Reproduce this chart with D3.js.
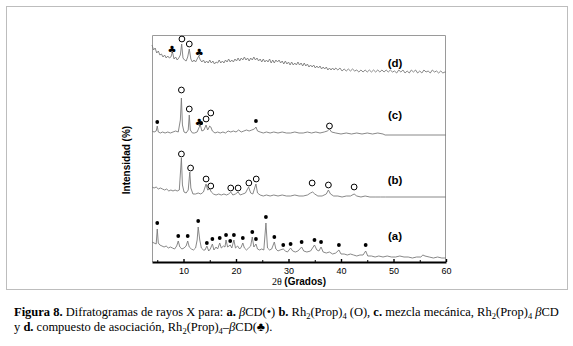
<!DOCTYPE html>
<html>
<head>
<meta charset="utf-8">
<script src="https://cdn.jsdelivr.net/npm/d3@7"></script>
<style>
  body { margin: 0; background: #fff; }
  svg { display: block; }
</style>
</head>
<body>
<svg width="573" height="346"></svg>
<script>
//diffractogram traces, [2theta, intensity above own baseline]
const trace_a = [
  [4.0,20],[4.4,19],[4.8,18],[5.0,33],[5.2,19],[5.5,17],[5.9,16],[6.3,15],[6.7,16],[7.1,14],
  [7.5,15],[7.9,14],[8.3,13],[8.7,16],[9.0,21],[9.3,15],[9.7,13],[10.1,14],[10.5,16],[10.8,21],
  [11.1,15],[11.5,13],[11.9,12],[12.3,14],[12.6,22],[12.8,35],[13.1,22],[13.4,14],[13.8,12],[14.1,12],
  [14.45,16],[14.8,11],[15.1,13],[15.5,18],[15.8,12],[16.2,15],[16.5,13],[16.9,19],[17.2,14],[17.6,16],
  [17.9,15],[18.1,22],[18.4,15],[18.9,17],[19.2,14],[19.6,22],[19.9,14],[20.3,16],[20.7,13],[21.0,15],
  [21.3,19],[21.6,14],[22.0,12],[22.4,14],[22.8,16],[23.1,25],[23.4,15],[23.8,18],[24.1,13],[24.5,12],
  [24.9,13],[25.3,12],[25.7,39],[26.0,14],[26.4,12],[26.8,13],[27.3,20],[27.6,13],[28.0,11],[28.4,12],
  [29.0,13],[29.4,11],[29.8,10],[30.4,14],[30.8,11],[31.3,10],[31.8,11],[32.5,15],[32.9,11],[33.5,10],
  [34.2,11],[34.95,17],[35.4,12],[35.8,11],[36.2,15],[36.6,10],[37.2,9],[37.8,10],[38.4,8],[39.0,9],
  [39.6,12],[40.0,8],[40.6,8],[41.2,7],[41.8,8],[42.4,7],[43.0,6],[43.6,7],[44.2,7],[44.7,11],
  [45.1,6],[45.8,6],[46.5,5],[47.2,6],[48.0,5],[48.8,6],[49.6,5],[50.4,5],[51.2,6],[52.0,5],
  [52.8,5],[53.6,4],[54.4,5],[55.2,5],[55.6,7],[56.0,6],[56.8,5],[57.6,4],[58.4,5],[59.2,4],[60.0,4]
];
const trace_b = [
  [4.0,15],[4.4,14],[4.8,15],[5.2,13],[5.6,14],[6.0,13],[6.4,12],[6.8,13],[7.2,11],[7.6,12],
  [8.0,11],[8.4,12],[8.8,11],[9.2,12],[9.45,32],[9.6,44],[9.8,17],[10.1,10],[10.5,9],[10.9,12],
  [11.2,30],[11.4,14],[11.8,8],[12.3,8],[12.8,9],[13.3,8],[13.8,10],[14.3,18],[14.6,12],[15.0,13],
  [15.3,10],[15.7,8],[16.2,7],[16.7,8],[17.2,7],[17.7,8],[18.2,7],[18.6,8],[19.0,10],[19.4,7],
  [19.9,8],[20.4,10],[20.8,7],[21.3,8],[21.8,9],[22.4,15],[22.8,9],[23.2,8],[23.8,18],[24.1,9],
  [24.6,7],[25.2,6],[25.8,7],[26.5,6],[27.2,7],[28.0,6],[28.8,7],[29.6,6],[30.4,6],[31.2,7],
  [32.0,6],[32.8,6],[33.6,7],[34.2,9],[34.6,10],[35.0,8],[35.6,6],[36.4,6],[37.2,8],[37.6,12],
  [38.0,8],[38.6,6],[39.4,6],[40.2,5],[41.0,6],[41.8,6],[42.5,8],[43.0,6],[43.8,5],[44.6,6],
  [45.5,5],[46.5,5],[47.5,5],[48.5,5],[60.0,5]
];
const trace_c = [
  [4.0,6],[4.4,5],[4.8,6],[5.0,11],[5.2,5],[5.6,4],[6.0,5],[6.5,4],[7.0,5],[7.5,4],
  [8.0,5],[8.5,6],[9.0,5],[9.4,17],[9.6,39],[9.8,12],[10.1,5],[10.5,4],[10.9,7],[11.1,22],
  [11.3,7],[11.7,4],[12.1,4],[12.6,5],[13.0,10],[13.2,12],[13.5,6],[13.9,7],[14.3,12],[14.6,7],
  [15.0,11],[15.2,10],[15.5,6],[16.0,4],[16.5,5],[17.0,4],[17.5,5],[18.0,4],[18.5,6],[19.0,5],
  [19.5,6],[20.0,5],[20.5,7],[21.0,5],[21.5,6],[22.0,7],[22.5,6],[23.0,7],[23.5,8],[23.8,10],
  [24.1,6],[24.6,5],[25.2,4],[25.8,5],[26.5,4],[27.2,5],[28.0,4],[28.8,5],[29.6,4],[30.4,4],
  [31.2,5],[32.0,4],[32.8,4],[33.6,5],[34.4,4],[35.2,5],[36.0,4],[36.8,5],[37.4,6],[37.8,8],
  [38.2,5],[39.0,4],[40.0,3],[41.0,4],[42.0,3],[43.0,4],[44.0,3],[45.0,4],[46.0,3],[47.0,4],
  [48.0,3],[48.4,2],[60.0,2]
];
const trace_d = [
  [4.0,32],[4.3,27],[4.6,29],[4.9,24],[5.2,26],[5.5,22],[5.8,23],[6.1,20],[6.4,22],[6.7,19],
  [7.0,21],[7.3,19],[7.6,20],[7.9,25],[8.2,18],[8.5,20],[8.8,17],[9.1,19],[9.4,22],[9.65,33],
  [9.9,19],[10.2,17],[10.5,16],[10.8,20],[11.1,28],[11.4,18],[11.7,15],[12.0,17],[12.3,15],[12.6,18],
  [12.9,21],[13.2,17],[13.5,15],[13.8,17],[14.1,14],[14.4,16],[14.7,14],[15.0,17],[15.3,14],[15.6,16],
  [15.9,13],[16.2,15],[16.5,14],[16.8,17],[17.1,14],[17.4,16],[17.7,14],[18.0,17],[18.3,15],[18.6,18],
  [18.9,15],[19.2,17],[19.5,15],[19.8,18],[20.1,16],[20.4,19],[20.7,16],[21.0,19],[21.3,17],[21.6,20],
  [21.9,17],[22.2,19],[22.5,16],[22.8,19],[23.1,17],[23.4,20],[23.7,17],[24.0,19],[24.3,16],[24.6,18],
  [24.9,15],[25.2,18],[25.5,15],[25.8,17],[26.1,15],[26.4,18],[26.7,14],[27.0,17],[27.3,14],[27.6,17],
  [27.9,15],[28.2,17],[28.5,14],[28.8,16],[29.1,13],[29.4,16],[29.7,13],[30.0,15],[30.3,12],[30.6,15],
  [30.9,12],[31.2,14],[31.5,12],[31.8,15],[32.1,12],[32.4,14],[32.7,11],[33.0,14],[33.3,11],[33.6,13],
  [33.9,10],[34.2,12],[34.5,10],[34.8,12],[35.1,9],[35.4,11],[35.7,9],[36.0,11],[36.3,8],[36.6,10],
  [36.9,8],[37.2,10],[37.5,7],[37.8,9],[38.1,7],[38.4,9],[38.7,7],[39.0,9],[39.4,7],[39.8,9],
  [40.2,6],[40.6,8],[41.0,6],[41.4,8],[41.8,6],[42.2,8],[42.6,6],[43.0,7],[43.4,5],[43.8,7],
  [44.2,5],[44.6,7],[45.0,5],[45.4,7],[45.8,5],[46.2,7],[46.6,5],[47.0,7],[47.4,5],[47.8,7],
  [48.2,5],[48.6,7],[49.0,5],[49.4,7],[49.8,5],[50.2,6],[50.6,4],[51.0,7],[51.4,5],[51.8,7],
  [52.2,4],[52.6,6],[53.0,4],[53.4,7],[53.8,5],[54.2,7],[54.6,4],[55.0,6],[55.4,4],[55.8,7],
  [56.2,5],[56.6,6],[57.0,4],[57.4,7],[57.8,5],[58.2,6],[58.6,4],[59.0,6],[59.4,4],[59.8,5],[60.0,5]
];

//vertical offset of each trace (stacked plot), same order as labels
const trace_names = ["(a)", "(b)", "(c)", "(d)"];
const trace_offsets = [0, 60, 125, 185];

//peak markers: [2theta, intensity above baseline, symbol] dot=βCD, circle=Rh2(Prop)4, club=complex
const marks_a = [
  [5.0,39,"dot"],[9.0,26,"dot"],[10.8,26,"dot"],[12.8,41,"dot"],[14.45,19,"dot"],[15.5,23,"dot"],
  [16.9,24,"dot"],[18.1,27,"dot"],[18.9,21,"dot"],[19.6,27,"dot"],[21.3,24,"dot"],[23.1,30,"dot"],
  [23.8,23,"dot"],[25.7,45,"dot"],[27.3,25,"dot"],[29.0,17,"dot"],[30.4,18,"dot"],[32.5,20,"dot"],
  [34.95,22,"dot"],[36.2,20,"dot"],[39.6,17,"dot"],[44.7,17,"dot"]
];
const marks_b = [
  [9.6,48,"circle"],[11.35,34,"circle"],[14.3,23,"circle"],[15.2,16,"circle"],[19.0,14,"circle"],
  [20.4,14,"circle"],[22.45,19,"circle"],[23.85,23,"circle"],[34.5,19,"circle"],[37.6,17,"circle"],
  [42.5,15,"circle"]
];
const marks_c = [
  [5.0,15,"dot"],[9.6,47,"circle"],[11.1,28,"circle"],[13.0,15,"club"],[13.35,14,"dot"],
  [14.3,18,"circle"],[15.2,24,"circle"],[23.8,16,"dot"],[37.8,11,"circle"]
];
const marks_d = [
  [7.8,28,"club"],[9.7,38,"circle"],[11.1,33,"circle"],[13.0,25,"club"]
];

const x_ticks = [10, 20, 30, 40, 50, 60];
const x_minor = [5, 15, 25, 35, 45, 55];

//layout
const svg = d3.select("svg");
const plot = { left: 152, right: 446, top: 35, bottom: 262 };

svg.append("rect")
    .attr("x", 6.5).attr("y", 6.5)
    .attr("width", 561).attr("height", 283)
    .attr("fill", "none")
    .attr("stroke", "#bdbdbd");

const x = d3.scaleLinear().domain([4, 60]).range([plot.left, plot.right]);
const y = d3.scaleLinear().domain([0, 227]).range([plot.bottom, plot.top]);

//frame (left, top, right)
svg.append("path")
    .attr("d", `M${plot.left + 0.5},${plot.bottom}V${plot.top + 0.5}H${plot.right - 0.5}V${plot.bottom}`)
    .attr("fill", "none")
    .attr("stroke", "#9a9a9a");

//traces
const traces = [trace_a, trace_b, trace_c, trace_d];
const marks = [marks_a, marks_b, marks_c, marks_d];
const line = d3.line();

traces.forEach((tr, i) => {
    const off = trace_offsets[i];
    svg.append("path")
        .attr("d", line(tr.map(d => [x(d[0]), y(d[1] + off)])))
        .attr("fill", "none")
        .attr("stroke", "#7a7a7a")
        .attr("stroke-width", 0.9);

    const g = svg.append("g");
    marks[i].forEach(m => {
        const mx = x(m[0]), my = y(m[1] + off);
        if (m[2] === "dot") {
            g.append("circle").attr("cx", mx).attr("cy", my).attr("r", 1.9).attr("fill", "#000");
        } else if (m[2] === "circle") {
            g.append("circle").attr("cx", mx).attr("cy", my).attr("r", 2.9)
                .attr("fill", "none").attr("stroke", "#000").attr("stroke-width", 1);
        } else {
            g.append("text").attr("x", mx).attr("y", my + 4)
                .attr("text-anchor", "middle")
                .attr("font-family", "DejaVu Sans")
                .attr("font-size", "10px")
                .text("\u2663");
        }
    });
});

//trace labels
const label_y = [26, 22, 22, 14];
trace_names.forEach((n, i) => {
    svg.append("text")
        .attr("x", 395)
        .attr("y", y(label_y[i] + trace_offsets[i]) + 4)
        .attr("text-anchor", "middle")
        .attr("font-family", "Liberation Sans, Arial")
        .attr("font-weight", "bold")
        .attr("font-size", "11.5px")
        .text(n);
});

//x axis
const ax = svg.append("g")
    .attr("transform", `translate(0, ${plot.bottom})`)
    .call(d3.axisBottom(x).tickValues(x_ticks).tickSizeInner(-3).tickSizeOuter(0).tickPadding(6));
ax.select(".domain").attr("stroke", "#000").attr("stroke-width", 2);
ax.selectAll(".tick line").attr("stroke-width", 1.4);
ax.selectAll("text")
    .attr("font-family", "Liberation Sans, Arial")
    .attr("font-size", "9px");
svg.append("g")
    .attr("transform", `translate(0, ${plot.bottom})`)
    .call(d3.axisBottom(x).tickValues(x_minor).tickSizeInner(-2).tickSizeOuter(0).tickFormat(""))
    .call(g => g.select(".domain").remove());

//axis titles
const xt = svg.append("text")
    .attr("x", 299)
    .attr("y", 285)
    .attr("text-anchor", "middle")
    .attr("font-size", "10px");
xt.append("tspan").attr("font-family", "Liberation Serif").text("2\u03b8 ");
xt.append("tspan").attr("font-family", "Liberation Sans, Arial").attr("font-weight", "bold").text("(Grados)");

svg.append("text")
    .attr("transform", "translate(130, 160) rotate(-90)")
    .attr("text-anchor", "middle")
    .attr("font-family", "Liberation Sans, Arial")
    .attr("font-weight", "bold")
    .attr("font-size", "10px")
    .text("Intensidad (%)");

//caption
const cap_font = "Liberation Serif, Times New Roman";
function cap(yPos, parts) {
    const t = svg.append("text")
        .attr("x", 14)
        .attr("y", yPos)
        .attr("font-family", cap_font)
        .attr("font-size", "12.5px");
    parts.forEach(p => {
        const s = t.append("tspan").text(p[0]);
        if (p[1] === "b") s.attr("font-weight", "bold");
        if (p[1] === "i") s.attr("font-style", "italic");
        if (p[1] === "sub") s.attr("font-size", "8.5px").attr("dy", 3);
        if (p[1] === "up") s.attr("dy", -3);
    });
}
cap(316, [
    ["Figura 8.", "b"], [" Difratogramas de rayos X para: "], ["a.", "b"], [" "], ["\u03b2", "i"],
    ["CD(\u2022) "], ["b.", "b"], [" Rh"], ["2", "sub"], ["(Prop)", "up"], ["4", "sub"], [" (O), ", "up"],
    ["c.", "b"], [" mezcla mec\u00e1nica, Rh"], ["2", "sub"], ["(Prop)", "up"], ["4", "sub"], [" ", "up"],
    ["\u03b2", "i"], ["CD"]
]);
cap(331, [
    ["y "], ["d.", "b"], [" compuesto de asociaci\u00f3n, Rh"], ["2", "sub"], ["(Prop)", "up"], ["4", "sub"],
    ["\u2013", "up"], ["\u03b2", "i"], ["CD(\u2663)."]
]);
</script>
</body>
</html>
